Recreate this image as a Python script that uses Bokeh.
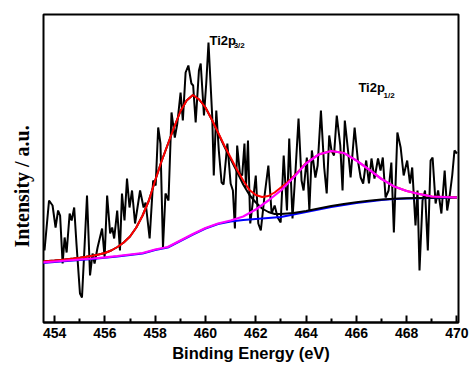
import math
from bokeh.plotting import figure
from bokeh.models import Range1d, FixedTicker, Label, Title
from bokeh.embed import file_html
from bokeh.resources import INLINE

# ---------------- data ----------------
# raw XPS spectrum (binding energy, eV / intensity, a.u.)
raw_x = [453.60, 453.78, 453.92, 454.04, 454.14, 454.22, 454.32, 454.40, 454.48, 454.60,
         454.68, 454.78, 454.87, 455.01, 455.09, 455.19, 455.29, 455.41, 455.51, 455.59,
         455.71, 455.89, 455.99, 456.09, 456.21, 456.29, 456.37, 456.49, 456.60, 456.68,
         456.78, 456.88, 456.98, 457.08, 457.20, 457.40, 457.54, 457.62, 457.78, 457.92,
         458.02, 458.12, 458.21, 458.31, 458.41, 458.53, 458.65, 458.78, 458.88, 459.01,
         459.10, 459.21, 459.32, 459.44, 459.51, 459.61, 459.74, 459.81, 459.94, 460.03,
         460.12, 460.27, 460.33, 460.43, 460.53, 460.64, 460.72, 460.87, 461.00, 461.09,
         461.17, 461.26, 461.37, 461.46, 461.55, 461.61, 461.69, 461.78, 461.89, 462.00,
         462.10, 462.20, 462.35, 462.50, 462.63, 462.75, 462.87, 462.99, 463.11, 463.24,
         463.33, 463.46, 463.58, 463.70, 463.82, 463.90, 464.03, 464.13, 464.23, 464.37,
         464.46, 464.59, 464.72, 464.82, 464.92, 465.01, 465.11, 465.22, 465.36, 465.45,
         465.54, 465.68, 465.77, 465.93, 466.06, 466.17, 466.27, 466.39, 466.50, 466.60,
         466.72, 466.86, 466.96, 467.05, 467.16, 467.28, 467.39, 467.49, 467.63, 467.76,
         467.88, 468.02, 468.13, 468.22, 468.35, 468.43, 468.51, 468.63, 468.73, 468.84,
         468.95, 469.03, 469.15, 469.25, 469.38, 469.51, 469.61, 469.71, 469.81, 469.90,
         470.00]
raw_y = [72, 122, 117, 95, 112, 107, 59, 85, 70, 109,
         102, 115, 79, 29, 25, 75, 127, 47, 69, 59,
         75, 94, 65, 127, 89, 95, 84, 112, 72, 129,
         102, 144, 115, 132, 99, 132, 115, 120, 84, 142,
         137, 195, 179, 75, 129, 122, 210, 185, 199, 230,
         202, 250, 257, 239, 237, 200, 252, 259, 207, 239,
         280, 205, 147, 212, 172, 140, 138, 179, 139, 132,
         94, 177, 149, 147, 179, 135, 182, 99, 122, 147,
         99, 92, 127, 157, 109, 117, 105, 100, 167, 112,
         184, 104, 152, 204, 142, 132, 165, 112, 172, 145,
         157, 212, 155, 129, 187, 172, 167, 207, 177, 132,
         202, 169, 145, 195, 162, 145, 139, 162, 139, 164,
         144, 164, 152, 165, 125, 132, 160, 90, 190, 175,
         147, 162, 139, 155, 97, 132, 52, 122, 132, 72,
         162, 165, 119, 132, 109, 152, 112, 127, 147, 172,
         169]

# background (blue)
bg_x = [453.5, 454.0, 454.5, 455.0, 455.5, 456.0, 456.5, 457.0, 457.5, 458.0,
        458.5, 459.0, 459.5, 460.0, 460.5, 461.0, 461.5, 462.0, 462.5, 463.0,
        463.5, 464.0, 464.5, 465.0, 465.5, 466.0, 466.5, 467.0, 467.5, 468.0,
        468.5, 469.0, 469.5, 470.0]
bg_y = [59.5, 60.5, 61.5, 62.5, 63.5, 64.7, 66.0, 67.5, 69.0, 72.5,
        75.0, 81.5, 88.0, 94.0, 98.5, 101.0, 102.5, 103.5, 104.5, 105.5,
        108.0, 110.5, 113.0, 115.5, 117.5, 119.5, 121.0, 122.5, 123.5, 124.0,
        124.3, 124.5, 124.7, 125.0]

# Ti2p1/2 component + background (magenta)
p12_y = [60.0, 61.0, 62.0, 63.0, 64.0, 65.2, 66.5, 68.0, 69.5, 73.0,
         75.5, 82.0, 88.5, 94.5, 99.0, 102.0, 106.0, 113.0, 122.0, 132.0,
         145.0, 159.0, 168.0, 171.5, 169.5, 162.0, 153.0, 143.5, 136.0, 131.5,
         128.5, 126.0, 125.5, 125.0]

# envelope (red) and Ti2p3/2 component + background (black)
fit_x = [453.5, 453.75, 454.0, 454.25, 454.5, 454.75, 455.0, 455.25, 455.5, 455.75,
         456.0, 456.25, 456.5, 456.75, 457.0, 457.25, 457.5, 457.75, 458.0, 458.25,
         458.5, 458.75, 459.0, 459.25, 459.5, 459.75, 460.0, 460.25, 460.5, 460.75,
         461.0, 461.25, 461.5, 461.75, 462.0, 462.25, 462.5, 462.75, 463.0, 463.25,
         463.5, 463.75, 464.0, 464.5, 465.0, 465.5, 466.0, 466.5, 467.0, 467.5,
         468.0, 468.5, 469.0, 469.5, 470.0]
env_y = [61.0, 61.5, 62.0, 62.6, 63.3, 64.0, 64.8, 65.7, 66.7, 68.0,
         69.5, 72.0, 75.5, 80.0, 86.0, 95.0, 107.0, 122.0, 142.0, 161.0,
         178.0, 195.0, 211.0, 222.0, 227.5, 223.0, 215.0, 203.0, 190.0, 177.0,
         165.0, 153.0, 142.0, 132.5, 127.5, 125.5, 126.5, 130.0, 135.0, 140.0,
         146.0, 152.5, 159.5, 168.0, 171.5, 169.5, 162.0, 153.0, 143.5, 136.0,
         131.5, 128.5, 126.0, 125.5, 125.0]
p32_y = [61.0, 61.5, 62.0, 62.6, 63.3, 64.0, 64.8, 65.7, 66.7, 68.0,
         69.5, 72.0, 75.5, 80.0, 86.0, 95.0, 107.0, 122.0, 142.0, 161.0,
         178.0, 195.0, 211.0, 222.0, 227.5, 223.0, 215.0, 203.0, 189.5, 176.0,
         163.5, 151.0, 138.0, 127.5, 120.0, 114.0, 110.5, 108.5, 108.5, 109.0,
         109.5, 110.5, 111.5, 114.0, 116.5, 118.5, 120.3, 121.8, 123.0, 123.8,
         124.2, 124.5, 124.7, 124.9, 125.0]

tick_vals = [454, 456, 458, 460, 462, 464, 466, 468, 470]
tick_labels = ["454", "456", "458", "460", "462", "464", "466", "468", "470"]
minor_vals = [455, 457, 459, 461, 463, 465, 467, 469]

# ---------------- figure ----------------
p = figure(width=471, height=370, output_backend="svg", toolbar_location=None,
           x_range=Range1d(453.56, 470.06), y_range=Range1d(0, 308),
           min_border_left=43, min_border_right=13, min_border_top=14,
           min_border_bottom=48)
p.xgrid.visible = False
p.ygrid.visible = False
p.yaxis.visible = False
p.outline_line_color = "black"
p.outline_line_width = 2
p.background_fill_color = "white"
p.border_fill_color = "white"

ax = p.xaxis[0]
ax.ticker = FixedTicker(ticks=tick_vals, minor_ticks=minor_vals)
ax.major_label_overrides = {v: s for v, s in zip(tick_vals, tick_labels)}
ax.axis_line_width = 2
ax.axis_line_color = "black"
ax.major_tick_in = 7
ax.major_tick_out = 0
ax.minor_tick_in = 4
ax.minor_tick_out = 0
ax.major_tick_line_width = 2
ax.minor_tick_line_width = 2
ax.major_label_standoff = 5
ax.major_label_text_font = "Liberation Sans"
ax.major_label_text_font_style = "bold"
ax.major_label_text_font_size = "14px"
ax.major_label_text_color = "black"
ax.axis_label = "Binding Energy (eV)"
ax.axis_label_text_font = "Liberation Sans"
ax.axis_label_text_font_style = "bold"
ax.axis_label_text_font_size = "16.5px"
ax.axis_label_text_color = "black"
ax.axis_label_standoff = 3

# ---------------- glyphs ----------------
p.line(raw_x, raw_y, line_color="black", line_width=2)
p.line(bg_x, bg_y, line_color="#0000FF", line_width=2)
p.line(fit_x, p32_y, line_color="black", line_width=2)
p.line(fit_x, env_y, line_color="#FF0000", line_width=2)
p.line(bg_x, p12_y, line_color="#FF00FF", line_width=2.2)

# ---------------- annotations ----------------
def add_text(x, y, txt, size):
    p.add_layout(Label(x=x, y=y, text=txt, text_font="Liberation Sans",
                       text_font_style="bold", text_font_size=size,
                       text_color="black", text_baseline="alphabetic",
                       text_align="left"))

add_text(460.16, 282, "Ti2p", "13px")
add_text(461.12, 277, "3/2", "8px")
add_text(466.08, 234.7, "Ti2p", "13px")
add_text(467.08, 227, "1/2", "8px")

ylab = Title(text="Intensity / a.u.", align="left", vertical_align="top",
             offset=75, standoff=17,
             text_font="Liberation Serif", text_font_style="bold",
             text_font_size="20px", text_color="black")
p.add_layout(ylab, "left")

open("out.html", "w").write(file_html(p, INLINE))
